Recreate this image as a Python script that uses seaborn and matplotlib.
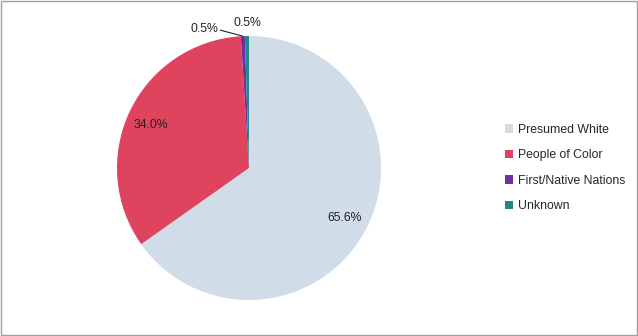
import matplotlib
matplotlib.use("Agg")
import matplotlib.pyplot as plt
import seaborn as sns
import numpy as np
from matplotlib.patches import Rectangle

categories = ["Presumed White", "People of Color", "First/Native Nations", "Unknown"]
values = [65.6, 34.0, 0.5, 0.5]
labels = ["65.6%", "34.0%", "0.5%", "0.5%"]
colors = ["#D0DCE8", "#E0435E", "#7030A0", "#1F8A8A"]

sns.set_theme(style="white")
plt.rcParams['font.family'] = ['Liberation Sans', 'DejaVu Sans']

fig = plt.figure(figsize=(6.38, 3.36), dpi=100)
fig.patch.set_facecolor("white")
fig.patches.append(Rectangle((0.001, 0.002), 0.997, 0.995, transform=fig.transFigure,
                             fill=False, edgecolor="#A0A0A0", linewidth=1))

ax = fig.add_axes([117/638, 36/336, 264/638, 264/336])
wedges, _ = ax.pie(values, colors=sns.color_palette(colors), startangle=90,
                   counterclock=False, radius=1.0,
                   wedgeprops=dict(linewidth=0))
ax.set_xlim(-1, 1)
ax.set_ylim(-1, 1)
ax.set_aspect("equal")

fs = 8.8
for i, w in enumerate(wedges):
    ang = np.deg2rad((w.theta1 + w.theta2) / 2)
    x, y = np.cos(ang), np.sin(ang)
    if i < 2:
        ax.text(0.82 * x, 0.82 * y - (0.03 if i == 1 else 0), labels[i],
                ha="center", va="center", fontsize=fs, color="#222222")
    elif i == 2:
        ax.text(-0.335, 1.05, labels[i], ha="center", va="center",
                fontsize=fs, color="#222222")
        ax.plot([-0.22, x], [1.045, y], color="#222222", lw=0.8,
                clip_on=False, solid_capstyle="butt")
    else:
        ax.text(-0.015, 1.10, labels[i], ha="center", va="center",
                fontsize=fs, color="#222222")

handles = [Rectangle((0, 0), 1, 1, facecolor=c, edgecolor="none") for c in colors]
leg = fig.legend(handles, categories, loc="center left", bbox_to_anchor=(494/638, 0.5),
                 frameon=False, fontsize=fs, handlelength=0.65, handleheight=0.65,
                 handletextpad=0.4, labelspacing=1.1)

fig.savefig("out.png", dpi=100, facecolor="white")
